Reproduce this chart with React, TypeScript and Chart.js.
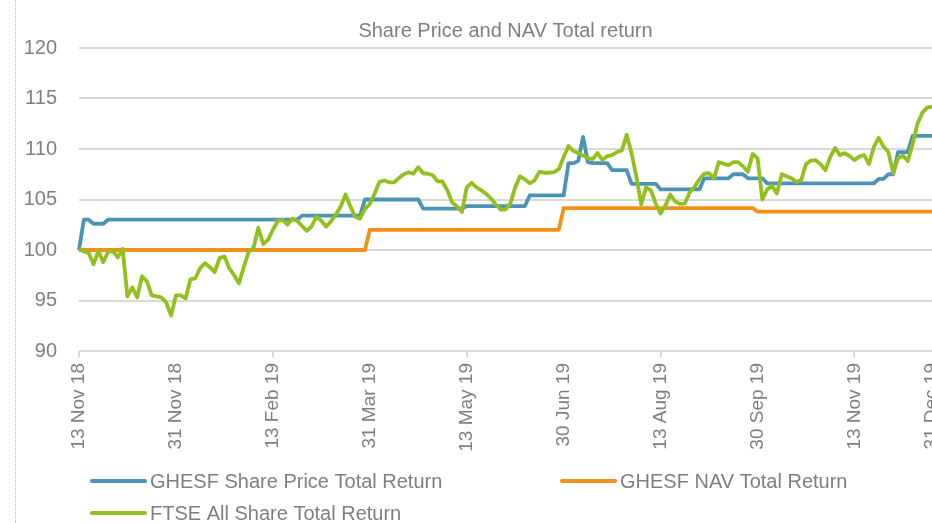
import React, { useEffect, useRef } from 'react';
import { Chart, registerables } from 'chart.js';

Chart.register(...registerables);

// ---------- data ----------
const chartTitle = 'Share Price and NAV Total return';
const tickLabels = ['13 Nov 18', '31 Nov 18', '13 Feb 19', '31 Mar 19', '13 May 19', '30 Jun 19', '13 Aug 19', '30 Sep 19', '13 Nov 19', '31 Dec 19'];
const seriesNames = ['GHESF Share Price Total Return', 'GHESF NAV Total Return', 'FTSE All Share Total Return'];
const yMin = 90;
const yMax = 120;
const yStep = 5;

const sharePrice = [
  100, 103, 103, 102.6, 102.6, 102.6,
  103, 103, 103, 103, 103, 103, 103, 103, 103, 103,
  103, 103, 103, 103, 103, 103, 103, 103, 103, 103,
  103, 103, 103, 103, 103, 103, 103, 103, 103, 103,
  103, 103, 103, 103, 103, 103, 103, 103, 103, 103,
  103.4, 103.4, 103.4, 103.4, 103.4, 103.4, 103.4, 103.4, 103.4, 103.4, 103.4, 103.4, 103.4,
  105, 105, 105, 105, 105, 105, 105, 105, 105, 105, 105, 105,
  104.1, 104.1, 104.1, 104.1, 104.1, 104.1, 104.1, 104.1, 104.1,
  104.35, 104.35, 104.35, 104.35, 104.35, 104.35, 104.35, 104.35, 104.35, 104.35, 104.35, 104.35, 104.35,
  105.4, 105.4, 105.4, 105.4, 105.4, 105.4, 105.4, 105.4,
  108.6, 108.6, 108.8, 111.2, 108.7,
  108.6, 108.6, 108.6, 108.6,
  107.9, 107.9, 107.9, 107.9,
  106.55, 106.55, 106.55, 106.55, 106.55, 106.55,
  106.0, 106.0, 106.0, 106.0, 106.0, 106.0, 106.0, 106.0, 106.0,
  107.1, 107.1, 107.1, 107.1, 107.1, 107.1,
  107.5, 107.5, 107.5,
  107.1, 107.1, 107.1, 107.1,
  106.6, 106.6, 106.6, 106.6, 106.6, 106.6, 106.6, 106.6, 106.6, 106.6,
  106.6, 106.6, 106.6, 106.6, 106.6, 106.6, 106.6, 106.6, 106.6, 106.6,
  106.6, 106.6, 106.6,
  107.05, 107.05, 107.5, 107.5,
  109.7, 109.7, 109.7,
  111.3, 111.3, 111.3, 111.3, 111.3,
];

const nav = [
  100, 100, 100, 100, 100, 100, 100, 100, 100, 100,
  100, 100, 100, 100, 100, 100, 100, 100, 100, 100,
  100, 100, 100, 100, 100, 100, 100, 100, 100, 100,
  100, 100, 100, 100, 100, 100, 100, 100, 100, 100,
  100, 100, 100, 100, 100, 100, 100, 100, 100, 100,
  100, 100, 100, 100, 100, 100, 100, 100, 100, 100,
  102, 102, 102, 102, 102, 102, 102, 102, 102, 102,
  102, 102, 102, 102, 102, 102, 102, 102, 102, 102,
  102, 102, 102, 102, 102, 102, 102, 102, 102, 102,
  102, 102, 102, 102, 102, 102, 102, 102, 102, 102,
  104.15, 104.15, 104.15, 104.15, 104.15, 104.15, 104.15, 104.15, 104.15, 104.15,
  104.15, 104.15, 104.15, 104.15, 104.15, 104.15, 104.15, 104.15, 104.15, 104.15,
  104.15, 104.15, 104.15, 104.15, 104.15, 104.15, 104.15, 104.15, 104.15, 104.15,
  104.15, 104.15, 104.15, 104.15, 104.15, 104.15, 104.15, 104.15, 104.15, 104.15,
  103.8, 103.8, 103.8, 103.8, 103.8, 103.8, 103.8, 103.8, 103.8, 103.8,
  103.8, 103.8, 103.8, 103.8, 103.8, 103.8, 103.8, 103.8, 103.8, 103.8,
  103.8, 103.8, 103.8, 103.8, 103.8, 103.8, 103.8, 103.8, 103.8, 103.8,
  103.8, 103.8, 103.8, 103.8, 103.8, 103.8, 103.8,
];

const ftse = [
  100.1, 99.85, 99.7, 98.6, 99.9, 98.8, 99.8, 99.9, 99.27, 100.1,
  95.4, 96.3, 95.3, 97.4, 96.9, 95.5, 95.4, 95.3, 94.8, 93.5,
  95.5, 95.5, 95.2, 97.1, 97.2, 98.2, 98.7, 98.3, 97.8, 99.2,
  99.37, 98.2, 97.5, 96.7, 98.3, 99.8, 100.2, 102.2, 100.6, 101.0,
  102.0, 102.85, 103.0, 102.5, 103.1, 102.9, 102.4, 101.9, 102.35, 103.3,
  102.9, 102.3, 102.85, 103.5, 104.3, 105.5, 104.3, 103.3, 103.1, 104.07,
  104.55, 105.6, 106.75, 106.88, 106.7, 106.7, 107.12, 107.5, 107.7, 107.55,
  108.2, 107.6, 107.55, 107.4, 106.8, 106.78, 105.9, 104.7, 104.3, 103.75,
  106.2, 106.65, 106.2, 105.9, 105.56, 105.1, 104.5, 104.0, 104.0, 104.6,
  106.2, 107.3, 107.0, 106.6, 106.9, 107.75, 107.65, 107.65, 107.7, 108.0,
  109.2, 110.3, 109.8, 109.6, 109.35, 109.1, 109.0, 109.6, 108.9, 109.3,
  109.4, 109.7, 109.85, 111.4, 109.6, 107.3, 104.5, 106.2, 105.9, 104.6,
  103.6, 104.4, 105.5, 104.8, 104.57, 104.6, 105.7, 106.25, 107.0, 107.55,
  107.6, 107.1, 108.7, 108.55, 108.4, 108.7, 108.7, 108.3, 107.75, 109.5,
  109.1, 105.0, 106.0, 106.35, 105.6, 107.5, 107.3, 107.1, 106.75, 106.9,
  108.5, 108.85, 108.9, 108.5, 107.9, 109.2, 110.1, 109.4, 109.6, 109.3,
  108.9, 109.25, 109.4, 108.5, 110.2, 111.1, 110.25, 109.7, 107.6, 109.1,
  109.35, 108.8, 110.5, 112.5, 113.6, 114.1, 114.2,
];

const LABEL_EVERY = 20;
const categories = ftse.map((_, i) =>
  i % LABEL_EVERY === 0
    ? tickLabels[i / LABEL_EVERY]
    : i === ftse.length - 1
    ? tickLabels[tickLabels.length - 1]
    : ''
);

// ---------- styles ----------
const FONT = "'Liberation Sans', Arial, sans-serif";
const TEXT = '#7f7f7f';
const GRID = '#d9d9d9';
const COLORS = ['#4b94b6', '#f39019', '#92c01f'];
const LINE_W = 3.8;

const legendPlugin = {
  id: 'gridLegend',
  afterDraw(chart: any) {
    const ctx = chart.ctx;
    const slots = [
      { x: 92, y: 481 },
      { x: 562, y: 481 },
      { x: 92, y: 513 },
    ];
    chart.data.datasets.forEach((ds: any, i: number) => {
      const s = slots[i];
      ctx.save();
      ctx.strokeStyle = ds.borderColor;
      ctx.lineWidth = 4;
      ctx.lineCap = 'round';
      ctx.beginPath();
      ctx.moveTo(s.x, s.y);
      ctx.lineTo(s.x + 53, s.y);
      ctx.stroke();
      ctx.fillStyle = TEXT;
      ctx.font = `20px ${FONT}`;
      ctx.textBaseline = 'middle';
      ctx.textAlign = 'left';
      ctx.fillText(ds.label, s.x + 58, s.y + 1);
      ctx.restore();
    });
  },
};

export default function App() {
  const canvasRef = useRef<HTMLCanvasElement | null>(null);

  useEffect(() => {
    if (!canvasRef.current) return;
    const chart = new Chart(canvasRef.current, {
      type: 'line',
      data: {
        labels: categories,
        datasets: [
          { label: seriesNames[0], data: sharePrice, borderColor: COLORS[0], backgroundColor: COLORS[0], borderWidth: LINE_W, pointRadius: 0, tension: 0, order: 1, borderJoinStyle: 'round' },
          { label: seriesNames[1], data: nav, borderColor: COLORS[1], backgroundColor: COLORS[1], borderWidth: LINE_W, pointRadius: 0, tension: 0, order: 2, borderJoinStyle: 'round' },
          { label: seriesNames[2], data: ftse, borderColor: COLORS[2], backgroundColor: COLORS[2], borderWidth: LINE_W, pointRadius: 0, tension: 0, order: 0, borderJoinStyle: 'round' },
        ],
      },
      options: {
        responsive: false,
        animation: false,
        layout: { padding: { left: 0, right: 0, top: 0, bottom: 70 } },
        plugins: {
          legend: { display: false },
          tooltip: { enabled: false },
          title: {
            display: true,
            text: chartTitle,
            fullSize: false,
            color: TEXT,
            font: { family: FONT, size: 20, weight: 'normal' },
            padding: { top: 19, bottom: 5 },
          },
        },
        scales: {
          x: {
            type: 'category',
            ticks: {
              autoSkip: false,
              maxRotation: 90,
              minRotation: 90,
              padding: 6,
              color: TEXT,
              font: { family: FONT, size: 19 },
            },
            grid: {
              drawOnChartArea: false,
              drawTicks: true,
              tickLength: 6,
              lineWidth: 2,
              color: (c: any) => (c.index % (LABEL_EVERY * 2) === 0 ? GRID : 'rgba(0,0,0,0)'),
            },
            border: { display: false },
            afterFit(s: any) {
              s.height = 102;
              s.paddingLeft = 0;
              s.paddingRight = 0;
            },
          },
          y: {
            min: yMin,
            max: yMax,
            ticks: {
              stepSize: yStep,
              padding: 22,
              color: TEXT,
              font: { family: FONT, size: 20 },
            },
            grid: { color: GRID, lineWidth: 2, drawTicks: false },
            border: { display: false },
            afterFit(s: any) {
              s.width = 79;
              s.paddingTop = 0;
              s.paddingBottom = 0;
            },
          },
        },
      },
      plugins: [legendPlugin],
    } as any);
    return () => chart.destroy();
  }, []);

  return (
    <div style={{ position: 'absolute', left: 0, top: 0, width: 932, height: 523, background: '#fff', overflow: 'hidden' }}>
      <div style={{ position: 'absolute', left: 15, top: 0, width: 0, height: 523, borderLeft: '1px dotted #b5b5b5' }} />
      <canvas ref={canvasRef} width={932} height={523} style={{ display: 'block', width: 932, height: 523 }} />
    </div>
  );
}
